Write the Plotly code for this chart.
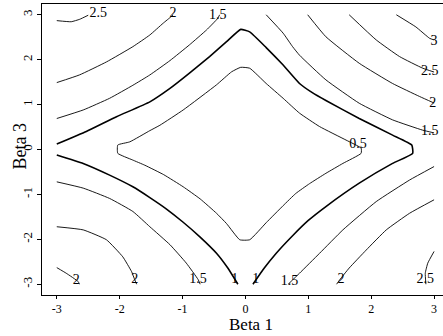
import plotly.graph_objects as go

# Contour level 0.5 (closed curve around the centre)
c05_x = [-2.03, -1.84, -1.52, -1.36, -0.99, -0.46, -0.22, -0.075, 0.068, 0.33, 0.60, 0.86, 1.18, 1.60, 1.84,
         1.84, 1.55, 1.28, 1.02, 0.80, 0.60, 0.33, 0.068, -0.09, -0.30, -0.46, -0.72, -0.99, -1.30, -1.60,
         -1.80, -2.03, -2.03]
c05_y = [0.10, 0.17, 0.42, 0.54, 0.88, 1.44, 1.73, 1.83, 1.81, 1.47, 1.14, 0.81, 0.51, 0.21, 0.03,
         -0.085, -0.31, -0.53, -0.76, -0.98, -1.25, -1.63, -2.01, -2.01, -1.65, -1.42, -1.10, -0.83, -0.56, -0.35,
         -0.23, -0.085, 0.10]

# Contour level 1 (drawn heavier), two pieces
c10a_x = [-3.0, -2.53, -2.05, -1.52, -1.20, -0.89, -0.57, -0.30, -0.075, 0.068, 0.33, 0.60, 0.86, 1.07, 1.28,
          1.81, 2.34, 2.645, 2.66, 2.34, 1.81, 1.28, 1.00, 0.75, 0.49, 0.30, 0.12]
c10a_y = [0.12, 0.40, 0.73, 1.06, 1.36, 1.70, 2.07, 2.40, 2.675, 2.62, 2.27, 1.88, 1.47, 1.26, 1.09,
          0.69, 0.32, 0.10, -0.085, -0.31, -0.75, -1.27, -1.58, -1.92, -2.31, -2.64, -3.0]
c10b_x = [-3.0, -2.58, -2.16, -1.79, -1.52, -1.26, -0.99, -0.72, -0.46, -0.28, -0.12]
c10b_y = [-0.12, -0.31, -0.57, -0.83, -1.07, -1.32, -1.62, -1.95, -2.31, -2.64, -3.0]

# Contour level 1.5, four corner pieces
c15a_x = [-3.0, -2.58, -2.16, -1.79, -1.52, -1.20, -0.89, -0.62, -0.44, -0.41]
c15a_y = [0.69, 0.88, 1.14, 1.43, 1.66, 1.98, 2.33, 2.66, 2.92, 3.0]
c15b_x = [0.33, 0.60, 0.75, 0.86, 1.28, 1.81, 2.34, 2.82, 3.0]
c15b_y = [3.0, 2.59, 2.29, 2.10, 1.55, 1.03, 0.66, 0.43, 0.37]
c15c_x = [-3.0, -2.58, -2.16, -1.79, -1.52, -1.20, -0.94, -0.75, -0.72]
c15c_y = [-0.72, -0.86, -1.09, -1.38, -1.72, -2.12, -2.53, -2.90, -3.0]
c15d_x = [0.68, 0.86, 1.18, 1.55, 2.08, 2.61, 3.0]
c15d_y = [-3.0, -2.755, -2.31, -1.79, -1.16, -0.68, -0.38]

# Contour level 2, four corner pieces
c20a_x = [-3.0, -2.64, -2.21, -1.79, -1.52, -1.31, -1.18, -1.15]
c20a_y = [1.49, 1.66, 1.95, 2.29, 2.55, 2.81, 2.96, 3.0]
c20b_x = [0.99, 1.28, 1.81, 2.34, 2.77, 3.0]
c20b_y = [3.0, 2.51, 1.92, 1.47, 1.18, 1.035]
c20c_x = [-3.0, -2.58, -2.21, -1.95, -1.81, -1.76, -1.73]
c20c_y = [-1.72, -1.79, -2.01, -2.39, -2.72, -2.90, -3.0]
c20d_x = [1.45, 1.50, 1.65, 1.92, 2.24, 2.61, 3.0]
c20d_y = [-3.0, -2.90, -2.64, -2.24, -1.79, -1.42, -1.12]

# Outer corner pieces (levels 2.5, 2 and 3)
c25a_x = [-3.0, -2.77, -2.635, -2.50]
c25a_y = [2.87, 2.845, 2.90, 2.99]
c25b_x = [1.65, 2.08, 2.45, 2.82, 3.0]
c25b_y = [3.0, 2.44, 2.07, 1.81, 1.725]
c2bl_x = [-3.0, -2.85, -2.66, -2.64]
c2bl_y = [-2.63, -2.755, -2.94, -3.0]
c25d_x = [2.87, 2.86, 2.90, 3.0]
c25d_y = [-3.0, -2.755, -2.53, -2.27]
c30_x = [2.40, 2.71, 2.93, 3.0]
c30_y = [3.0, 2.73, 2.475, 2.44]

# Contour labels
lab_text = ["2.5", "2", "1.5", "3", "2.5", "2", "1.5", "0.5",
            "2", "2", "1.5", "1", "1", "1.5", "2", "2.5"]
lab_x = [-2.34, -1.15, -0.44, 3.0, 2.93, 2.98, 2.93, 1.79,
         -2.69, -1.76, -0.754, -0.17, 0.164, 0.70, 1.52, 2.86]
lab_y = [3.02, 3.03, 2.99, 2.41, 1.73, 1.03, 0.40, 0.12,
         -2.92, -2.905, -2.905, -2.905, -2.89, -2.93, -2.905, -2.905]

ticks = [-3, -2, -1, 0, 1, 2, 3]
SERIF = "Liberation Serif"

thin = [(c05_x, c05_y), (c15a_x, c15a_y), (c15b_x, c15b_y), (c15c_x, c15c_y), (c15d_x, c15d_y),
        (c20a_x, c20a_y), (c20b_x, c20b_y), (c20c_x, c20c_y), (c20d_x, c20d_y),
        (c25a_x, c25a_y), (c25b_x, c25b_y), (c2bl_x, c2bl_y), (c25d_x, c25d_y), (c30_x, c30_y)]
thick = [(c10a_x, c10a_y), (c10b_x, c10b_y)]

fig = go.Figure()
for xs, ys in thin:
    fig.add_trace(go.Scatter(x=xs, y=ys, mode="lines", hoverinfo="skip",
                             line=dict(color="black", width=0.9, shape="spline", smoothing=0.4)))
for xs, ys in thick:
    fig.add_trace(go.Scatter(x=xs, y=ys, mode="lines", hoverinfo="skip",
                             line=dict(color="black", width=1.6, shape="spline", smoothing=0.4)))

fig.add_trace(go.Scatter(x=lab_x, y=lab_y, mode="text", text=lab_text, hoverinfo="skip",
                         textfont=dict(family=SERIF, size=14, color="black")))

fig.update_layout(
    width=443, height=336,
    margin=dict(l=42, r=0, t=4, b=41),
    plot_bgcolor="white", paper_bgcolor="white",
    showlegend=False,
    font=dict(family=SERIF, color="black"),
    xaxis=dict(range=[-3.235, 3.142], tickvals=ticks, ticktext=[str(t) for t in ticks],
               showgrid=False, zeroline=False, showline=True, mirror=True,
               linecolor="black", linewidth=1, ticks="outside", ticklen=3, tickwidth=1,
               tickcolor="black", tickfont=dict(family=SERIF, size=12, color="black")),
    yaxis=dict(range=[-3.24, 3.24], tickvals=ticks, ticktext=[str(t) for t in ticks],
               showgrid=False, zeroline=False, showline=True, mirror=False,
               linecolor="black", linewidth=1, ticks="outside", ticklen=4, tickwidth=1,
               tickcolor="black", tickangle=-90,
               tickfont=dict(family=SERIF, size=13, color="black")),
    annotations=[
        dict(text="Beta 1", xref="paper", yref="paper", x=0.521, y=0, yanchor="top",
             yshift=-19, borderpad=0, showarrow=False,
             font=dict(family=SERIF, size=17, color="black")),
        dict(text="Beta 3", xref="paper", yref="paper", x=0, y=0.51, xanchor="center",
             xshift=-22, textangle=-90, showarrow=False,
             font=dict(family=SERIF, size=18, color="black")),
    ],
)

fig.write_html("out.html")
